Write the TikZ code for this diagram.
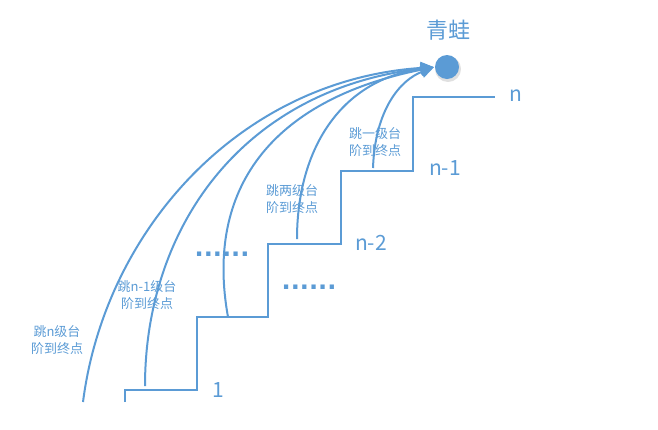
\documentclass[tikz,border=0pt]{standalone}
\usepackage{fontspec}
\setmainfont{Noto Sans CJK SC}
\newfontfamily\dotfont{DejaVu Sans}
\usetikzlibrary{arrows.meta}
\definecolor{blu}{HTML}{5B9BD5}
\begin{document}
\begin{tikzpicture}[x=1pt,y=-1pt,
  stair/.style={draw=blu,line width=2.2pt,line join=miter},
  jump/.style={draw=blu,line width=2pt,-{Triangle[length=13pt,width=12pt]},shorten >=1pt},
  lbl/.style={text=blu,font=\fontsize{13}{17}\selectfont,align=center,inner sep=0pt},
  num/.style={text=blu,font=\fontsize{21}{24}\selectfont,inner sep=0pt},
  dots/.style={text=blu,font=\dotfont\bfseries\fontsize{24}{24}\selectfont,inner sep=0pt}]
\useasboundingbox (0,0) rectangle (658,429);
% staircase
\draw[stair] (125,402) -- (125,390) -- (197,390) -- (197,317) -- (268,317) -- (268,244)
  -- (341,244) -- (341,171) -- (413,171) -- (413,97) -- (495,97);
% frog
\fill[black,opacity=0.12] (448,69) circle (13);
\node[circle,fill=blu,minimum size=24pt,inner sep=0pt] (frog) at (447,67) {};
\node[text=blu,font=\fontsize{22}{24}\selectfont,inner sep=0pt] (title) at (448,30) {青蛙};
% start points
\coordinate (s1) at (83,402);
\coordinate (s2) at (145,386);
\coordinate (s3) at (228,317);
\coordinate (s4) at (297,239);
\coordinate (s5) at (373,168);
% curves
\draw[jump] (s1) .. controls (105,230) and (240,80) .. (frog.west);
\draw[jump] (s2) .. controls (145,230) and (240,90) .. (frog.west);
\draw[jump] (s3) .. controls (205,190) and (270,100) .. (frog.west);
\draw[jump] (s4) .. controls (297,150) and (340,80) .. (frog.west);
\draw[jump] (s5) .. controls (375,110) and (400,80) .. (frog.west);
% labels
\node[num] (ln) at (516,96) {n};
\node[num] (ln1) at (445,168) {n-1};
\node[num] (ln2) at (371,243) {n-2};
\node[num] (l1) at (218,390) {1};
\node[dots,anchor=base] (d1) at (222,256) {......};
\node[dots,anchor=base] (d2) at (309,289) {......};
\node[lbl] (t1) at (375,142) {跳一级台\\阶到终点};
\node[lbl] (t2) at (292,199) {跳两级台\\阶到终点};
\node[lbl] (t3) at (147,295) {跳n-1级台\\阶到终点};
\node[lbl] (t4) at (57,340) {跳n级台\\阶到终点};
\end{tikzpicture}
\end{document}
